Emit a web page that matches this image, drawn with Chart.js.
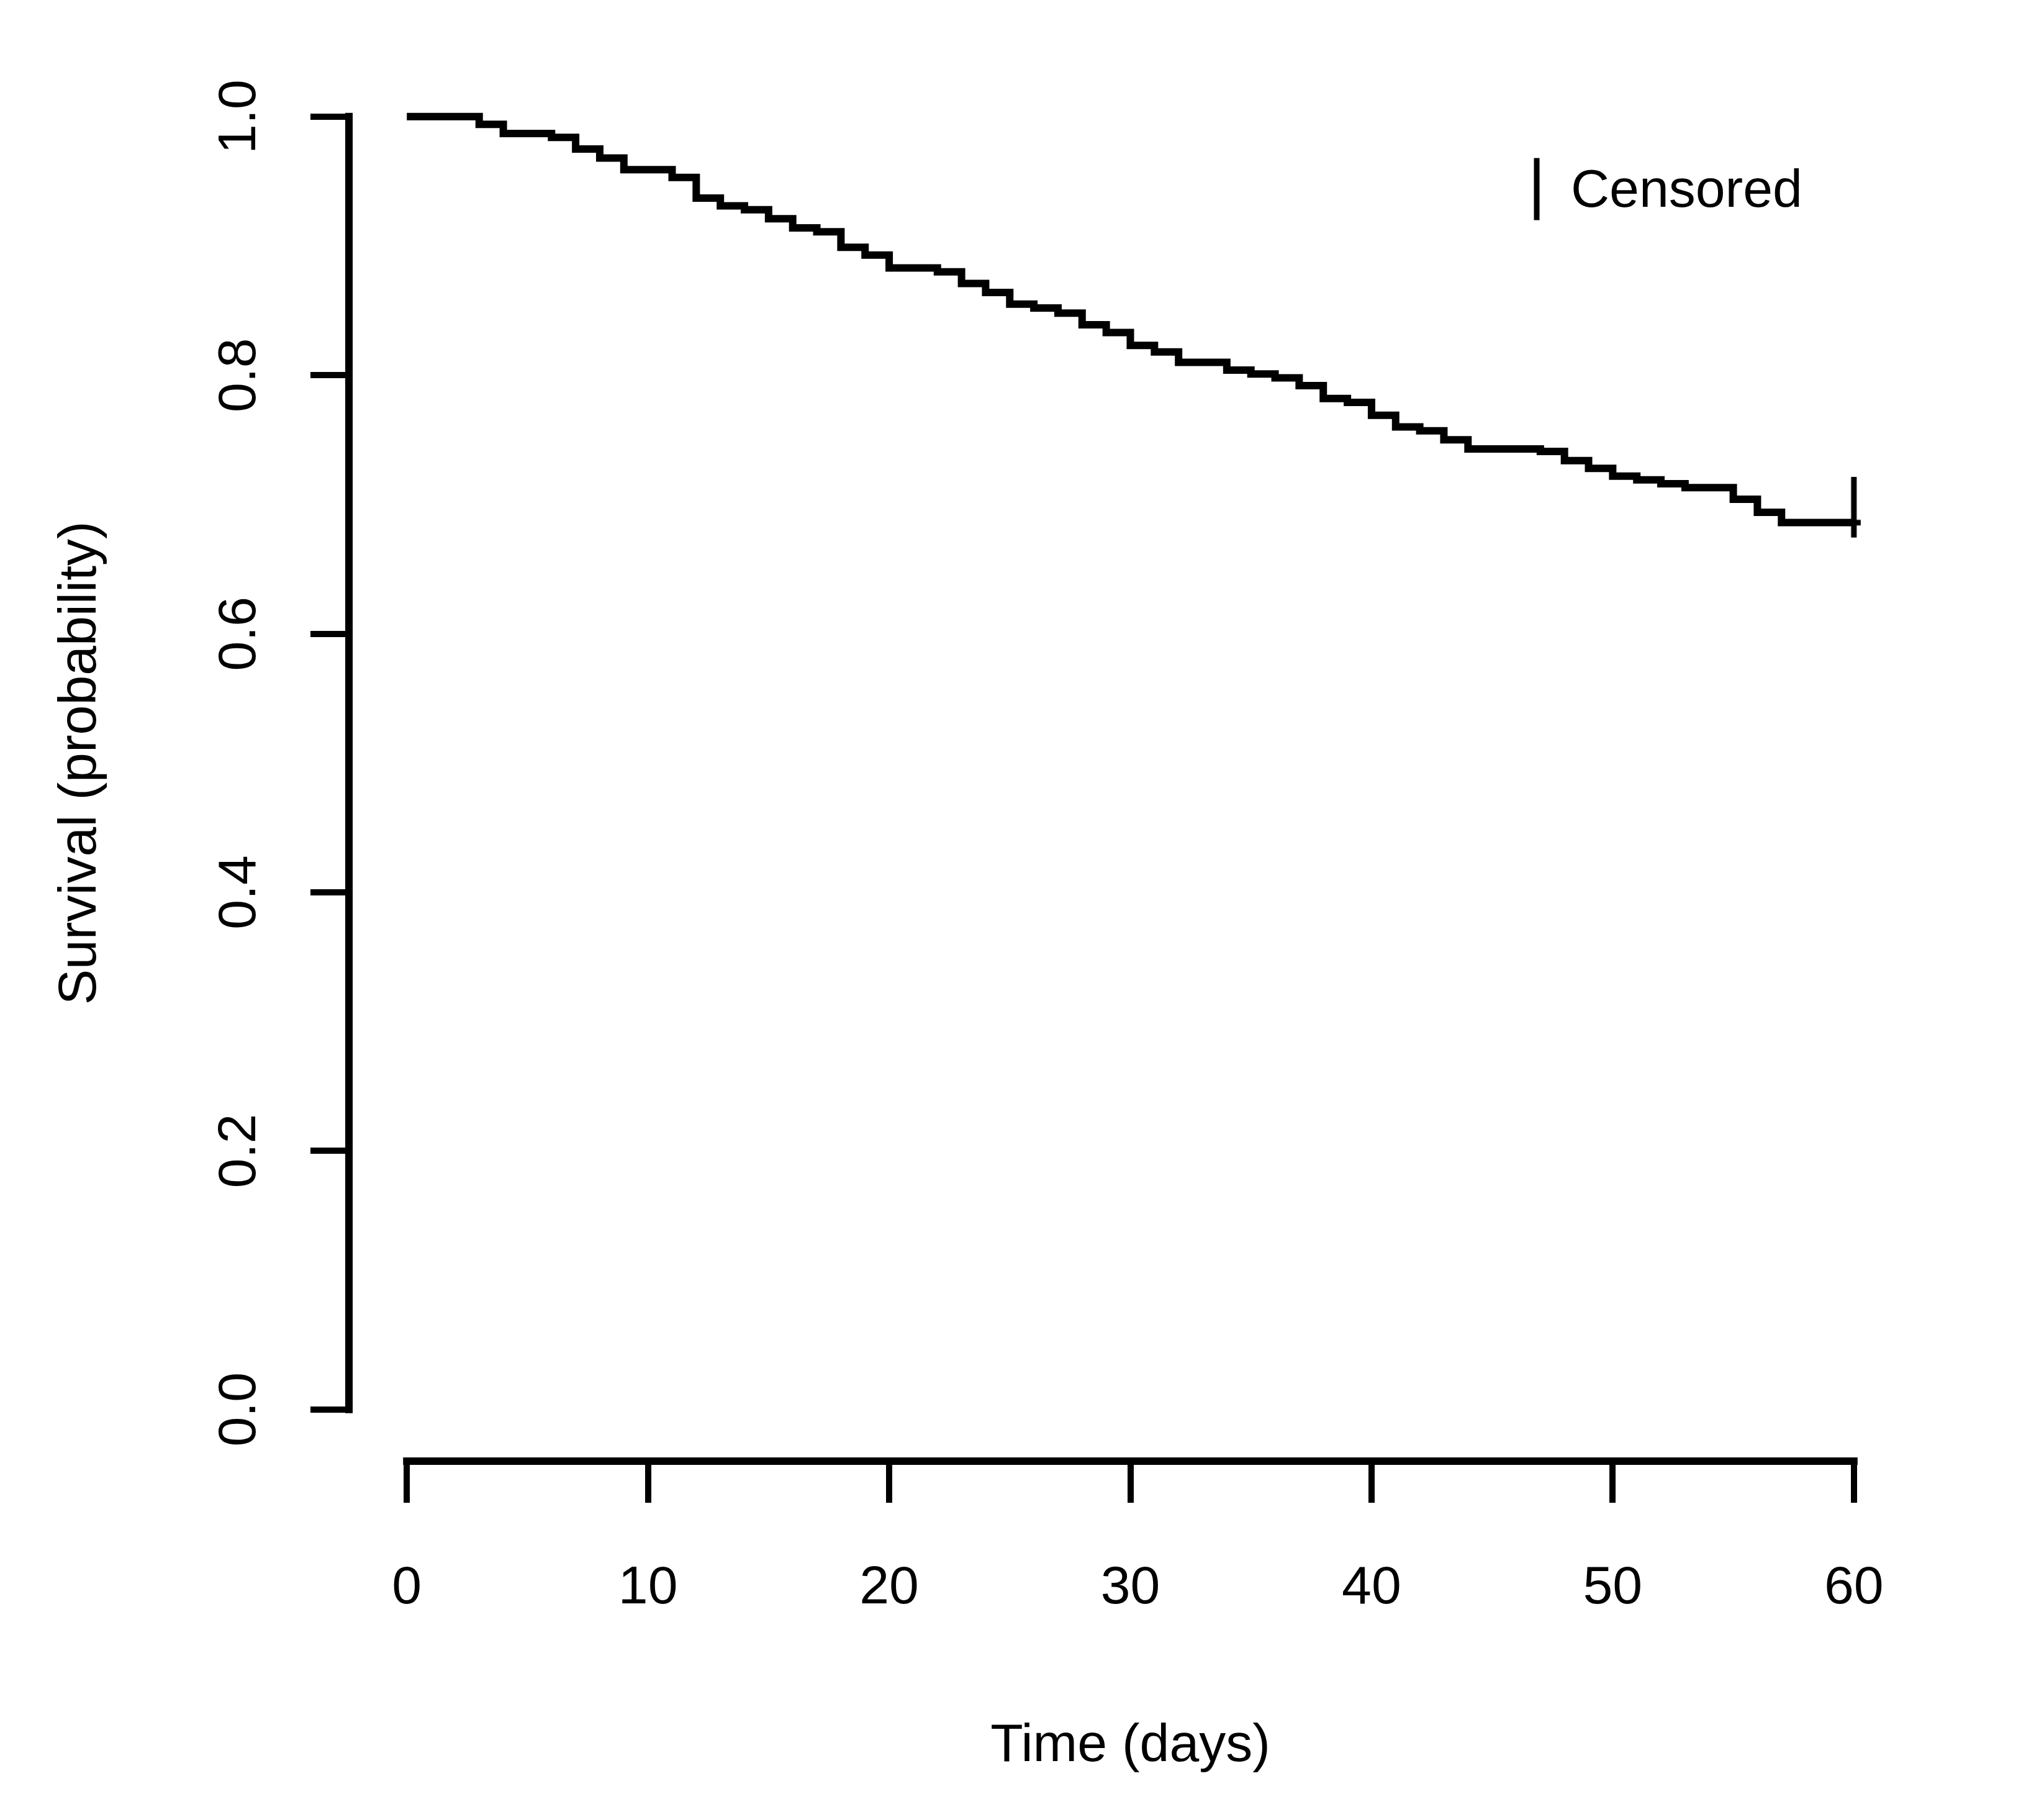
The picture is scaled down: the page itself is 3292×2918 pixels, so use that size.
<!DOCTYPE html>
<html>
<head>
<meta charset="utf-8">
<title>Kaplan-Meier survival</title>
<script src="https://cdn.jsdelivr.net/npm/chart.js@4.4.0/dist/chart.umd.min.js"></script>
<style>
  html, body { margin: 0; padding: 0; background: #fff; }
  #wrap { width: 3292px; height: 2918px; position: relative; }
</style>
</head>
<body>
<div id="wrap"><canvas id="km"></canvas></div>
<script>
'use strict';

// ─── Data ────────────────────────────────────────────────────────────────────

const timeDays = [0, 3, 4, 6, 7, 8, 9, 11, 12, 13, 14, 15, 16, 17, 18, 19, 20,
  22, 23, 24, 25, 26, 27, 28, 29, 30, 31, 32, 34, 35, 36, 37, 38, 39, 40, 41,
  42, 43, 44, 47, 48, 49, 50, 51, 52, 53, 55, 56, 57, 60];
const survival = [1.000, 0.994, 0.987, 0.984, 0.975, 0.968, 0.959, 0.953,
  0.937, 0.931, 0.928, 0.921, 0.914, 0.911, 0.899, 0.893, 0.883,
  0.880, 0.871, 0.864, 0.855, 0.852, 0.848, 0.839, 0.833, 0.823, 0.818,
  0.810, 0.804, 0.801, 0.798, 0.792, 0.782, 0.779, 0.769, 0.760,
  0.757, 0.750, 0.743, 0.741, 0.734, 0.728, 0.722, 0.719, 0.716, 0.713,
  0.704, 0.694, 0.686, 0.686];
const censorTimes = [60];
const censorSurvival = [0.686];

const xTicks = [0, 10, 20, 30, 40, 50, 60];
const yTicks = [0, 0.2, 0.4, 0.6, 0.8, 1.0];
const xTitle = 'Time (days)';
const yTitle = 'Survival (probability)';
const legendLabel = 'Censored';

// ─── Look ────────────────────────────────────────────────────────────────────

const INK = '#000';

// the reference uses a narrow sans; use Liberation Sans Narrow when present
const hasNarrow = (() => {
  const c = document.createElement('canvas').getContext('2d');
  c.font = "100px 'Liberation Sans Narrow', monospace";
  const a = c.measureText('Censored').width;
  c.font = '100px monospace';
  return Math.abs(a - c.measureText('Censored').width) > 1;
})();
const FONT = hasNarrow ? "'Liberation Sans Narrow', 'Liberation Sans', Arial, sans-serif"
                       : "'Liberation Sans', Arial, sans-serif";
const FONT_SIZE = hasNarrow ? 98 : 86;
const HALF_LH = FONT_SIZE * 0.6;

// censor mark: vertical bar sitting mostly above the curve, small right arm
function censorMark() {
  const c = document.createElement('canvas');
  c.width = 40; c.height = 148;
  const g = c.getContext('2d');
  g.strokeStyle = INK;
  g.lineWidth = 9;
  g.beginPath();
  g.moveTo(20, 0); g.lineTo(20, 98);
  g.moveTo(8, 74); g.lineTo(31, 74);
  g.stroke();
  return c;
}

// R-style detached axes: line only spans first..last tick
const rAxes = {
  id: 'rAxes',
  afterDraw(chart) {
    const { ctx, chartArea, scales: { x, y } } = chart;
    ctx.save();
    ctx.strokeStyle = INK;
    ctx.lineWidth = 12;
    ctx.lineCap = 'square';
    ctx.beginPath();
    ctx.moveTo(x.getPixelForValue(xTicks[0]), chartArea.bottom);
    ctx.lineTo(x.getPixelForValue(xTicks[xTicks.length - 1]), chartArea.bottom);
    ctx.moveTo(chartArea.left, y.getPixelForValue(yTicks[0]));
    ctx.lineTo(chartArea.left, y.getPixelForValue(yTicks[yTicks.length - 1]));
    ctx.stroke();

    // legend, top right inside the plot
    const lx = chartArea.right - 604;
    const ly = chartArea.top + 200;
    ctx.lineWidth = 9;
    ctx.lineCap = 'butt';
    ctx.beginPath();
    ctx.moveTo(lx, ly - 50);
    ctx.lineTo(lx, ly + 50);
    ctx.stroke();
    ctx.fillStyle = INK;
    ctx.font = `${FONT_SIZE}px ${FONT}`;
    ctx.textAlign = 'left';
    ctx.textBaseline = 'middle';
    ctx.fillText(legendLabel, lx + 55, ly + 5);
    ctx.restore();
  },
};

const ctx = document.getElementById('km').getContext('2d');

new Chart(ctx, {
  type: 'line',
  data: {
    datasets: [
      {
        label: 'Survival',
        data: timeDays.map((t, i) => ({ x: t, y: survival[i] })),
        stepped: 'before',
        borderColor: INK,
        borderWidth: 12,
        pointRadius: 0,
        fill: false,
      },
      {
        label: legendLabel,
        data: censorTimes.map((t, i) => ({ x: t, y: censorSurvival[i] })),
        showLine: false,
        pointStyle: censorMark(),
        pointRadius: 48,
        borderColor: INK,
      },
    ],
  },
  options: {
    responsive: true,
    maintainAspectRatio: false,
    devicePixelRatio: 1,
    animation: false,
    layout: { padding: { top: 92, right: 213, left: 0, bottom: 0 } },
    plugins: { legend: { display: false }, tooltip: { enabled: false } },
    scales: {
      x: {
        type: 'linear',
        min: -2.4,
        max: 62.4,
        afterFit: s => { s.height = 565; },
        afterBuildTicks: s => { s.ticks = xTicks.map(v => ({ value: v })); },
        border: { display: false },
        grid: { drawOnChartArea: false, drawTicks: true, tickLength: 67, lineWidth: 10, color: INK },
        ticks: { color: INK, padding: 138 - HALF_LH, maxRotation: 0, font: { family: FONT, size: FONT_SIZE } },
        title: { display: true, text: xTitle, color: INK, padding: { top: 0, bottom: 106 - HALF_LH },
          font: { family: FONT, size: FONT_SIZE } },
      },
      y: {
        type: 'linear',
        min: -0.04,
        max: 1.04,
        afterFit: s => { s.width = 562; },
        afterBuildTicks: s => { s.ticks = yTicks.map(v => ({ value: v })); },
        border: { display: false },
        grid: { drawOnChartArea: false, drawTicks: true, tickLength: 62, lineWidth: 10, color: INK },
        ticks: { color: INK, padding: hasNarrow ? 57 : 53, minRotation: 90, maxRotation: 90, crossAlign: 'center',
          callback: v => Number(v).toFixed(1), font: { family: FONT, size: FONT_SIZE } },
        title: { display: true, text: yTitle, color: INK, padding: { top: 130 - HALF_LH, bottom: 0 },
          font: { family: FONT, size: FONT_SIZE } },
      },
    },
  },
  plugins: [rAxes],
});
</script>
</body>
</html>
